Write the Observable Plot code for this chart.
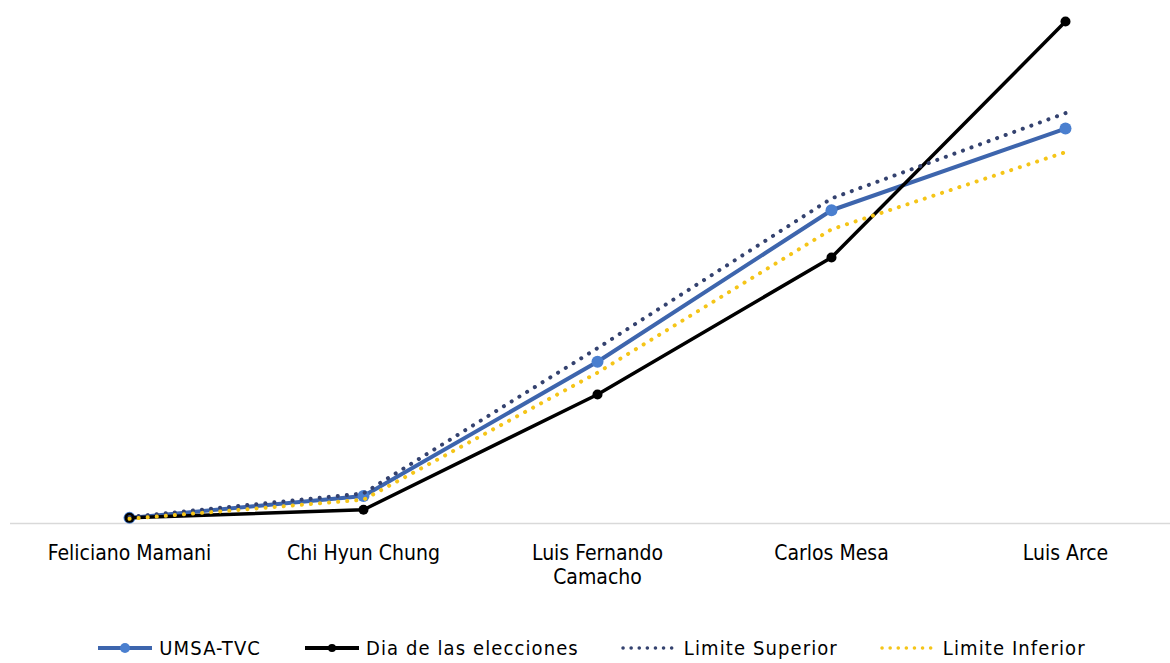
<!DOCTYPE html>
<html>
<head>
<meta charset="utf-8">
<script src="https://cdn.jsdelivr.net/npm/d3@7"></script>
<script src="https://cdn.jsdelivr.net/npm/@observablehq/plot@0.6"></script>
<style>
  body { margin: 0; background: #fff; font-family: "DejaVu Sans Condensed", "Liberation Sans Narrow", Arial, sans-serif; }
  #chart svg { display: block; }
  .legend { display: flex; justify-content: center; align-items: center; gap: 42px; margin-top: 36px; font-size: 20px; color: #000; letter-spacing: 1.1px; padding-left: 12px; }
  .item { display: flex; align-items: center; gap: 5px; }
</style>
</head>
<body>
<div id="chart"></div>
<div class="legend" id="legend"></div>
<script>
const categories = ["Feliciano Mamani", "Chi Hyun Chung", "Luis Fernando\nCamacho", "Carlos Mesa", "Luis Arce"];
const umsa = [0.4, 2.8, 17.6, 34.3, 43.3];
const dia = [0.4, 1.3, 14.0, 29.1, 55.1];
const superior = [0.5, 3.1, 19.1, 35.6, 45.0];
const inferior = [0.3, 2.4, 16.4, 32.2, 40.7];

const colors = { umsa: "#3d65ad", umsaDot: "#4a7fcf", dia: "#000000", sup: "#34426f", inf: "#f5c518" };

const toRows = (vals) => categories.map((c, i) => ({ cat: c, v: vals[i] }));
const rU = toRows(umsa), rD = toRows(dia), rS = toRows(superior), rI = toRows(inferior);

const chart = Plot.plot({
  width: 1170,
  height: 600,
  marginLeft: 10,
  marginRight: 0,
  marginTop: 21,
  marginBottom: 79,
  style: { fontFamily: '"DejaVu Sans Condensed", "Liberation Sans Narrow", Arial, sans-serif', color: "#000" },
  x: { type: "point", domain: categories, range: [128, 1066], padding: 0 },
  y: { domain: [0, 55.1], axis: null },
  marks: [
    Plot.ruleY([0], { stroke: "#d9d9d9", strokeWidth: 1.5, dy: 2 }),
    Plot.axisX({ tickSize: 0, tickPadding: 21, fontSize: 21, lineHeight: 1.15, label: null }),
    Plot.line(rU, { x: "cat", y: "v", stroke: colors.umsa, strokeWidth: 4 }),
    Plot.dot(rU, { x: "cat", y: "v", r: 6, fill: colors.umsaDot }),
    Plot.line(rD, { x: "cat", y: "v", stroke: colors.dia, strokeWidth: 3.5 }),
    Plot.dot(rD, { x: "cat", y: "v", r: 5, fill: colors.dia }),
    Plot.line(rS, { x: "cat", y: "v", stroke: colors.sup, strokeWidth: 4, strokeDasharray: "0.1 9", strokeLinecap: "round" }),
    Plot.line(rI, { x: "cat", y: "v", stroke: colors.inf, strokeWidth: 4, strokeDasharray: "0.1 9", strokeLinecap: "round" })
  ]
});
document.getElementById("chart").appendChild(chart);

const legendItems = [
  { label: "UMSA-TVC", color: colors.umsa, dotColor: colors.umsaDot, dash: null, w: 4, r: 5 },
  { label: "Dia de las elecciones", color: colors.dia, dotColor: colors.dia, dash: null, w: 4, r: 4 },
  { label: "Limite Superior", color: colors.sup, dotColor: null, dash: "0.1 8", w: 3.5 },
  { label: "Limite Inferior", color: colors.inf, dotColor: null, dash: "0.1 8", w: 3.5 }
];
const legend = d3.select("#legend");
for (const it of legendItems) {
  const item = legend.append("div").attr("class", "item");
  const svg = item.append("svg").attr("width", 58).attr("height", 14);
  svg.append("line").attr("x1", 2).attr("x2", 56).attr("y1", 7).attr("y2", 7)
    .attr("stroke", it.color).attr("stroke-width", it.w)
    .attr("stroke-dasharray", it.dash).attr("stroke-linecap", it.dash ? "round" : "butt");
  if (it.dotColor) svg.append("circle").attr("cx", 29).attr("cy", 7).attr("r", it.r).attr("fill", it.dotColor);
  item.append("span").text(it.label);
}
</script>
</body>
</html>
